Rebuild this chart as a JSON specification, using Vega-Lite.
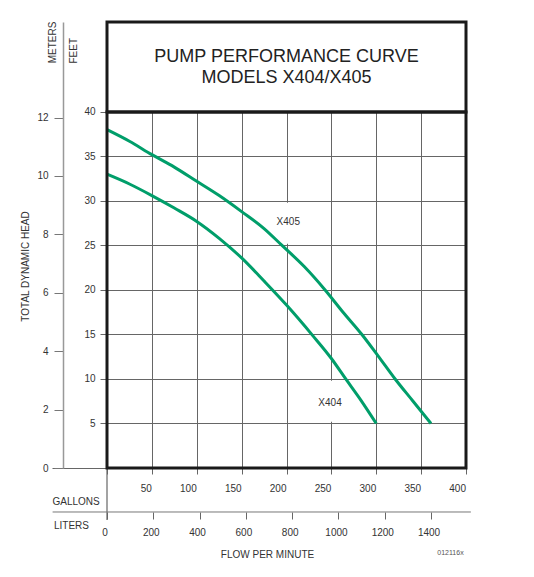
{
  "$schema": "https://vega.github.io/schema/vega-lite/v6.json",
  "width": 359,
  "height": 446,
  "autosize": {"type": "none"},
  "padding": {"left": 107, "top": 22, "right": 68, "bottom": 109},
  "background": "white",
  "config": {
    "view": {"stroke": null},
    "font": "Liberation Sans",
    "text": {"font": "Liberation Sans"},
    "axis": {
      "labelFont": "Liberation Sans",
      "titleFont": "Liberation Sans",
      "labelFontSize": 10,
      "titleFontSize": 10,
      "titleFontWeight": "normal",
      "labelColor": "#333333",
      "titleColor": "#333333",
      "labelFlush": false,
      "labelOverlap": false
    }
  },
  "datasets": {
    "curves": [
      {"model": "X405", "gpm": 0, "ft": 38.0},
      {"model": "X405", "gpm": 25, "ft": 36.7},
      {"model": "X405", "gpm": 50, "ft": 35.2},
      {"model": "X405", "gpm": 75, "ft": 33.8},
      {"model": "X405", "gpm": 100, "ft": 32.2},
      {"model": "X405", "gpm": 125, "ft": 30.6},
      {"model": "X405", "gpm": 150, "ft": 28.8},
      {"model": "X405", "gpm": 175, "ft": 26.9},
      {"model": "X405", "gpm": 195, "ft": 25.0},
      {"model": "X405", "gpm": 220, "ft": 22.6},
      {"model": "X405", "gpm": 243, "ft": 20.0},
      {"model": "X405", "gpm": 263, "ft": 17.5},
      {"model": "X405", "gpm": 284, "ft": 15.0},
      {"model": "X405", "gpm": 302, "ft": 12.6},
      {"model": "X405", "gpm": 321, "ft": 10.0},
      {"model": "X405", "gpm": 341, "ft": 7.5},
      {"model": "X405", "gpm": 361, "ft": 5.0},
      {"model": "X404", "gpm": 0, "ft": 33.0},
      {"model": "X404", "gpm": 25, "ft": 31.9},
      {"model": "X404", "gpm": 50, "ft": 30.6},
      {"model": "X404", "gpm": 75, "ft": 29.2},
      {"model": "X404", "gpm": 100, "ft": 27.7},
      {"model": "X404", "gpm": 125, "ft": 25.8},
      {"model": "X404", "gpm": 150, "ft": 23.6},
      {"model": "X404", "gpm": 175, "ft": 21.0},
      {"model": "X404", "gpm": 200, "ft": 18.3},
      {"model": "X404", "gpm": 229, "ft": 14.9},
      {"model": "X404", "gpm": 250, "ft": 12.3},
      {"model": "X404", "gpm": 266, "ft": 10.0},
      {"model": "X404", "gpm": 283, "ft": 7.6},
      {"model": "X404", "gpm": 300, "ft": 5.0}
    ],
    "frame": [
      {"part": "title", "gpm": 0, "gpm2": 400, "ft": 40, "ft2": 50.1},
      {"part": "plot", "gpm": 0, "gpm2": 400, "ft": 0, "ft2": 40}
    ],
    "zeroline": [
      {"gpm": 0, "ft": 0, "ft2": -5.85}
    ],
    "labelbg": [
      {"gpm": 186, "gpm2": 218, "ft": 25.2, "ft2": 29.8},
      {"gpm": 234, "gpm2": 264, "ft": 5.2, "ft2": 9.8}
    ],
    "curvelabels": [
      {"text": "X405", "gpm": 202, "ft": 27.67},
      {"text": "X404", "gpm": 248.5, "ft": 7.27}
    ],
    "titles": [
      {"text": "PUMP PERFORMANCE CURVE", "gpm": 200, "ft": 46.2},
      {"text": "MODELS X404/X405", "gpm": 200, "ft": 43.78}
    ],
    "notes": [
      {"text": "METERS", "gpm": -59.8, "ft": 45.46},
      {"text": "LITERS", "gpm": -59.1, "ft": -6.48},
      {"text": "012116x", "gpm": 382.7, "ft": -9.55}
    ],
    "literline": [
      {"liters": -235, "liters2": 1572, "meters": -1.506}
    ]
  },
  "layer": [
    {
      "encoding": {
        "x": {
          "field": "gpm",
          "type": "quantitative",
          "scale": {"domain": [0, 400], "nice": false, "zero": false},
          "axis": {
            "values": [0, 50, 100, 150, 200, 250, 300, 350, 400],
            "title": "GALLONS",
            "titleX": -55,
            "titleY": 33,
            "titleAlign": "left",
            "titleBaseline": "middle",
            "grid": true,
            "gridColor": "#666666",
            "gridWidth": 1,
            "domain": false,
            "tickColor": "#666666",
            "tickSize": 6,
            "labelExpr": "datum.value === 0 ? '' : datum.label",
            "labelPadding": 9,
            "labelAlign": "right",
            "labelOffset": -0.5
          }
        },
        "y": {
          "field": "ft",
          "type": "quantitative",
          "scale": {"domain": [0, 50.1], "nice": false, "zero": false},
          "axis": {
            "values": [0, 5, 10, 15, 20, 25, 30, 35, 40],
            "title": "FEET",
            "titleX": -34,
            "titleY": 41,
            "titleAngle": 270,
            "titleAlign": "left",
            "titleBaseline": "middle",
            "grid": true,
            "gridColor": "#666666",
            "gridWidth": 1,
            "domain": false,
            "tickColor": "#666666",
            "tickSize": {"condition": {"test": "datum.value === 0", "value": 55}, "value": 7},
            "labelExpr": "datum.value === 0 ? '' : datum.label",
            "labelPadding": 5
          }
        }
      },
      "layer": [
        {
          "data": {"name": "frame"},
          "transform": [{"filter": "datum.part === 'title'"}],
          "mark": {"type": "rect", "fill": "white"},
          "encoding": {"x2": {"field": "gpm2"}, "y2": {"field": "ft2"}}
        },
        {
          "data": {"name": "labelbg"},
          "mark": {"type": "rect", "fill": "white"},
          "encoding": {"x2": {"field": "gpm2"}, "y2": {"field": "ft2"}}
        },
        {
          "data": {"name": "zeroline"},
          "mark": {"type": "rule", "color": "#666666", "strokeWidth": 1.2},
          "encoding": {"y2": {"field": "ft2"}}
        },
        {
          "data": {"name": "curves"},
          "mark": {"type": "line", "color": "#009e6a", "strokeWidth": 3, "interpolate": "monotone"},
          "encoding": {"detail": {"field": "model"}}
        },
        {
          "data": {"name": "frame"},
          "mark": {"type": "rect", "filled": false, "stroke": "#1a1a1a", "strokeWidth": 3},
          "encoding": {"x2": {"field": "gpm2"}, "y2": {"field": "ft2"}}
        },
        {
          "data": {"name": "titles"},
          "mark": {"type": "text", "fontSize": 18, "color": "#222222", "align": "center", "baseline": "middle"},
          "encoding": {"text": {"field": "text"}}
        },
        {
          "data": {"name": "curvelabels"},
          "mark": {"type": "text", "fontSize": 10, "color": "#333333", "align": "center", "baseline": "middle"},
          "encoding": {"text": {"field": "text"}}
        },
        {
          "data": {"name": "notes"},
          "transform": [{"filter": "datum.text === 'METERS'"}],
          "mark": {"type": "text", "fontSize": 10, "color": "#333333", "align": "left", "baseline": "middle", "angle": 270},
          "encoding": {"text": {"field": "text"}}
        },
        {
          "data": {"name": "notes"},
          "transform": [{"filter": "datum.text === 'LITERS'"}],
          "mark": {"type": "text", "fontSize": 10, "color": "#333333", "align": "left", "baseline": "middle"},
          "encoding": {"text": {"field": "text"}}
        },
        {
          "data": {"name": "notes"},
          "transform": [{"filter": "datum.text === '012116x'"}],
          "mark": {"type": "text", "fontSize": 7, "color": "#555555", "align": "center", "baseline": "middle"},
          "encoding": {"text": {"field": "text"}}
        }
      ]
    },
    {
      "data": {"name": "literline"},
      "mark": {"type": "rule", "color": "#777777", "strokeWidth": 1},
      "encoding": {
        "x": {
          "field": "liters",
          "type": "quantitative",
          "scale": {"domain": [0, 1551], "nice": false, "zero": false},
          "axis": {
            "orient": "bottom",
            "offset": 44,
            "values": [0, 200, 400, 600, 800, 1000, 1200, 1400],
            "format": "d",
            "title": "FLOW PER MINUTE",
            "titleX": 160,
            "titleY": 42,
            "titleAlign": "center",
            "titleBaseline": "middle",
            "grid": false,
            "domain": false,
            "tickSize": 7,
            "tickColor": "#666666",
            "labelPadding": 8,
            "labelOffset": -2.5
          }
        },
        "x2": {"field": "liters2"},
        "y": {
          "field": "meters",
          "type": "quantitative",
          "scale": {"domain": [0, 15.27], "nice": false, "zero": false},
          "axis": {
            "orient": "left",
            "offset": 44,
            "values": [0, 2, 4, 6, 8, 10, 12],
            "title": "TOTAL DYNAMIC HEAD",
            "titleX": -38,
            "titleY": 244,
            "titleAngle": 270,
            "titleAlign": "center",
            "titleBaseline": "middle",
            "grid": false,
            "domain": true,
            "domainColor": "#999999",
            "domainWidth": 1.5,
            "tickSize": 9,
            "tickColor": "#777777",
            "labelPadding": 6
          }
        }
      }
    }
  ],
  "resolve": {"scale": {"x": "independent", "y": "independent"}}
}
